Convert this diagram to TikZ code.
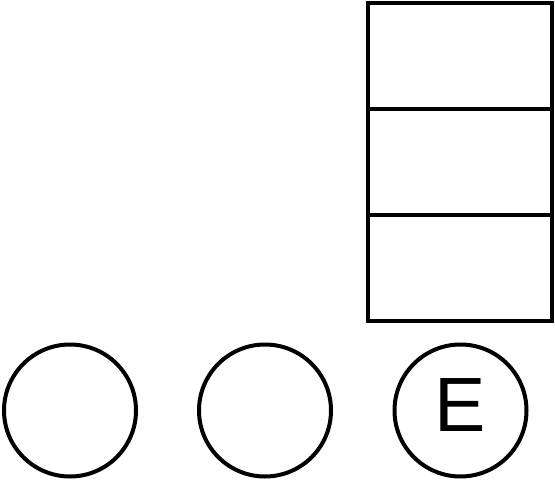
\documentclass[tikz,border=0pt]{standalone}
\usepackage{fontspec}
\setmainfont{Liberation Sans}
\begin{document}
\begin{tikzpicture}[x=1pt,y=-1pt,
  cell/.style={draw=black,line width=4pt,minimum width=184.5pt,minimum height=106pt,inner sep=0pt,outer sep=0pt},
  ring/.style={draw=black,line width=4pt,circle,minimum size=132pt,inner sep=0pt,outer sep=0pt},
  big/.style={inner sep=0pt,font=\fontsize{77}{77}\selectfont}]
\useasboundingbox (0,0) rectangle (555,482);
\node[cell] (r1) at (459.75,55.5) {};
\node[cell] (r2) at (459.75,161.5) {};
\node[cell] (r3) at (459.75,267.5) {};
\node[ring] (c1) at (70,410.5) {};
\node[ring] (c2) at (265,410.5) {};
\node[ring] (c3) at (460.5,410.5) {};
\node[big] (e) at ([yshift=5pt]c3.center) {E};
\end{tikzpicture}
\end{document}
